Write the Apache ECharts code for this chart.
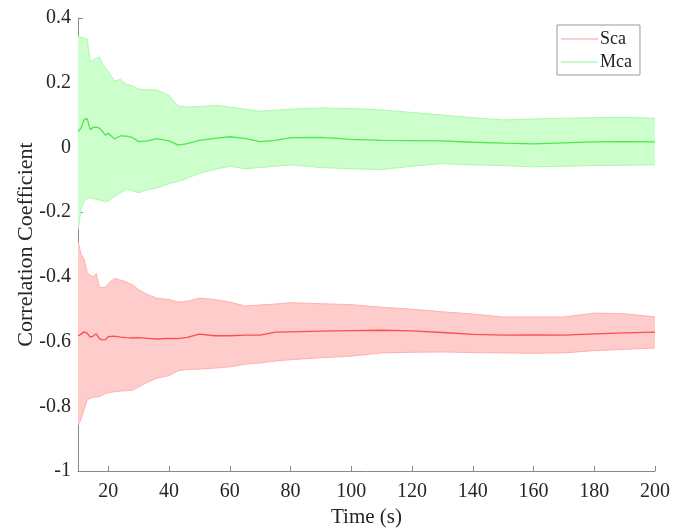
<!DOCTYPE html>
<html>
<head>
<meta charset="utf-8">
<script src="https://cdn.jsdelivr.net/npm/echarts@6/dist/echarts.min.js"></script>
<style>
  html, body { margin: 0; padding: 0; background: #fff; }
  #chart { width: 685px; height: 529px; }
</style>
</head>
<body>
<div id="chart"></div>
<script>
// time samples (s)
const time = [10, 11, 12, 13, 14, 15, 16, 17, 18, 19, 20, 22, 24, 26, 28, 30, 33, 36, 40, 43,
  46, 50, 55, 60, 65, 70, 75, 80, 90, 100, 110, 120, 130, 140, 150, 160, 170, 180, 190, 200]

// Mca: mean and band
const mcaMean = [0.048, 0.06, 0.085, 0.09, 0.055, 0.062, 0.063, 0.06, 0.05, 0.038, 0.044, 0.026, 0.036, 0.035, 0.03, 0.018, 0.02, 0.027, 0.02, 0.007,
  0.012, 0.022, 0.028, 0.033, 0.028, 0.018, 0.022, 0.03, 0.031, 0.025, 0.022, 0.021, 0.02, 0.016, 0.013, 0.011, 0.014, 0.017, 0.018, 0.017]
const mcaUpper = [0.345, 0.34, 0.338, 0.335, 0.265, 0.27, 0.275, 0.28, 0.26, 0.245, 0.235, 0.205, 0.21, 0.195, 0.19, 0.18, 0.178, 0.178, 0.16, 0.128,
  0.125, 0.126, 0.13, 0.125, 0.118, 0.112, 0.115, 0.118, 0.122, 0.12, 0.116, 0.108, 0.1, 0.092, 0.085, 0.088, 0.09, 0.092, 0.093, 0.09]
const mcaLower = [-0.255, -0.19, -0.165, -0.157, -0.155, -0.158, -0.16, -0.162, -0.165, -0.168, -0.165, -0.152, -0.14, -0.128, -0.135, -0.14, -0.13, -0.125, -0.112, -0.105,
  -0.095, -0.08, -0.068, -0.058, -0.066, -0.062, -0.058, -0.054, -0.062, -0.066, -0.068, -0.058, -0.05, -0.054, -0.056, -0.06, -0.058, -0.056, -0.055, -0.054]

// Sca: mean and band
const scaMean = [-0.583, -0.577, -0.57, -0.574, -0.586, -0.583, -0.576, -0.59, -0.595, -0.594, -0.585, -0.583, -0.586, -0.588, -0.589, -0.588, -0.59, -0.592, -0.59, -0.591,
  -0.587, -0.577, -0.582, -0.582, -0.58, -0.58, -0.571, -0.57, -0.568, -0.566, -0.565, -0.567, -0.572, -0.578, -0.58, -0.579, -0.58, -0.576, -0.573, -0.571]
const scaUpper = [-0.29, -0.33, -0.345, -0.385, -0.395, -0.4, -0.39, -0.432, -0.433, -0.432, -0.42, -0.405, -0.41, -0.416, -0.425, -0.44, -0.455, -0.466, -0.47, -0.478,
  -0.475, -0.466, -0.47, -0.478, -0.49, -0.487, -0.484, -0.48, -0.483, -0.486, -0.494, -0.5, -0.508, -0.515, -0.524, -0.524, -0.524, -0.512, -0.514, -0.524]
const scaLower = [-0.858, -0.84, -0.81, -0.78, -0.775, -0.772, -0.771, -0.771, -0.765, -0.76, -0.758, -0.755, -0.753, -0.752, -0.75, -0.74, -0.725, -0.713, -0.705, -0.69,
  -0.686, -0.685, -0.682, -0.678, -0.67, -0.666, -0.66, -0.656, -0.65, -0.645, -0.635, -0.633, -0.632, -0.634, -0.635, -0.636, -0.635, -0.628, -0.624, -0.62]

const xTicks = [20, 40, 60, 80, 100, 120, 140, 160, 180, 200]

const serif = '"Liberation Serif", "Times New Roman", serif'

const pairs = (ys) => time.map((t, i) => [t, ys[i]])

// shaded band between lower and upper, drawn as one polygon
function bandSeries(up, lo, fill) {
  return {
    type: 'custom',
    silent: true,
    z: 1,
    data: time.map((t, i) => [t, lo[i], up[i]]),
    encode: { x: 0, y: [1, 2] },
    renderItem: (params, api) => {
      if (params.dataIndex !== 0) return
      const top = time.map((t, i) => api.coord([t, up[i]]))
      const bot = time.map((t, i) => api.coord([t, lo[i]])).reverse()
      return {
        type: 'polygon',
        shape: { points: top.concat(bot) },
        style: { fill: fill, stroke: null }
      }
    }
  }
}

function edge(ys, color) {
  return { type: 'line', symbol: 'none', silent: true, data: pairs(ys),
    lineStyle: { color: color, width: 1 }, z: 2 }
}

function meanLine(name, ys, color) {
  return { name: name, type: 'line', symbol: 'none', data: pairs(ys),
    itemStyle: { color: color }, lineStyle: { color: color, width: 1.3 }, z: 3 }
}

const option = {
  animation: false,
  backgroundColor: '#fff',
  grid: { left: 78, right: 30, top: 18, bottom: 58, containLabel: false, outerBoundsMode: 'none' },
  legend: {
    data: [
      { name: 'Sca', itemStyle: { color: '#ff9c9c' } },
      { name: 'Mca', itemStyle: { color: '#8ff58f' } }
    ],
    icon: 'rect',
    orient: 'vertical',
    left: 557, top: 25,
    padding: [5, 8, 4, 4],
    itemGap: 5,
    itemWidth: 37, itemHeight: 1.2,
    borderColor: '#999', borderWidth: 1, borderRadius: 0,
    backgroundColor: '#fff',
    textStyle: { fontFamily: serif, fontSize: 18, color: '#222', padding: [0, 0, 0, -3] }
  },
  xAxis: {
    type: 'value', min: 10, max: 200,
    name: 'Time (s)', nameLocation: 'middle', nameGap: 36, nameMoveOverlap: false,
    nameTextStyle: { fontFamily: serif, fontSize: 21, color: '#262626' },
    axisLine: { onZero: false, lineStyle: { color: '#888' } },
    axisTick: { inside: true, length: 5, lineStyle: { color: '#888' },
      customValues: xTicks },
    axisLabel: { fontFamily: serif, fontSize: 20, color: '#262626', margin: 11,
      customValues: xTicks },
    splitLine: { show: false }
  },
  yAxis: {
    type: 'value', min: -1, max: 0.4, interval: 0.2,
    name: 'Correlation Coefficient', nameLocation: 'middle', nameGap: 41, nameMoveOverlap: false,
    nameTextStyle: { fontFamily: serif, fontSize: 22, color: '#262626' },
    axisLine: { show: true, onZero: false, lineStyle: { color: '#888' } },
    axisTick: { show: true, inside: true, length: 5, lineStyle: { color: '#888' } },
    axisLabel: { fontFamily: serif, fontSize: 20, color: '#262626', margin: 7,
      formatter: (v) => String(+v.toFixed(1)) },
    splitLine: { show: false }
  },
  series: [
    bandSeries(mcaUpper, mcaLower, '#ccffcc'),
    edge(mcaUpper, '#aef7ae'),
    edge(mcaLower, '#aef7ae'),
    meanLine('Mca', mcaMean, '#4ee84e'),
    bandSeries(scaUpper, scaLower, '#ffcccc'),
    edge(scaUpper, '#ffb0b0'),
    edge(scaLower, '#ffb0b0'),
    meanLine('Sca', scaMean, '#ff4d4d')
  ]
}

const chart = echarts.init(document.getElementById('chart'))
chart.setOption(option)
</script>
</body>
</html>
